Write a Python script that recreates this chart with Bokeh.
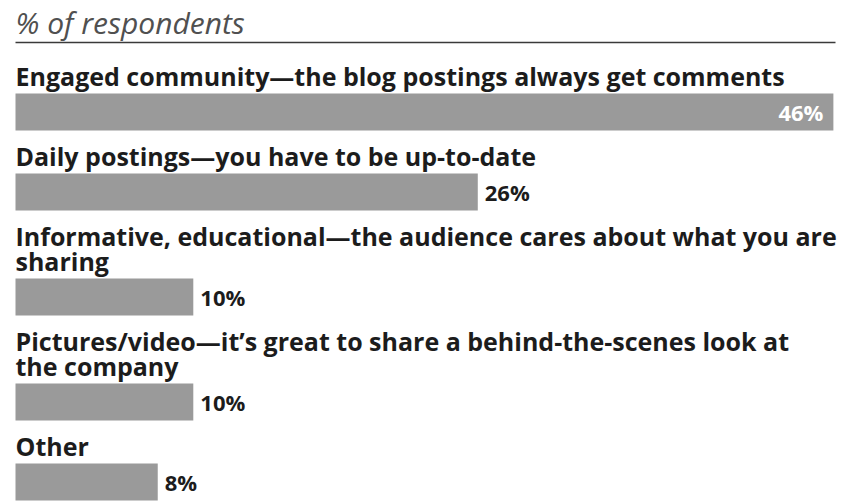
from bokeh.plotting import figure
from bokeh.models import Range1d, ColumnDataSource
from bokeh.embed import file_html
from bokeh.resources import INLINE
from bokeh.core.properties import value

# ---- data ----
title_text = "% of respondents"
categories = [
    ["Engaged community\u2014the blog postings always get comments"],
    ["Daily postings\u2014you have to be up-to-date"],
    ["Informative, educational\u2014the audience cares about what you are", "sharing"],
    ["Pictures/video\u2014it\u2019s great to share a behind-the-scenes look at", "the company"],
    ["Other"],
]
values = [46, 26, 10, 10, 8]
value_labels = ["46%", "26%", "10%", "10%", "8%"]

# ---- layout ----
W, H = 845, 503
PX_PER_UNIT = 17.78
LEFT_PX = 15
first_baseline = 82
line_h = 25
base_to_bar = 11
bar_h = 37
gap_after_bar = 32

LABEL_SIZE = 25
VALUE_SIZE = 22
TITLE_SIZE = 30
DESCENT = 0.27        # rendered baseline sits this many em below the given y

BAR_COLOR = "#9a9a9a"
TEXT_COLOR = "#1c1c1c"
FONT = "Open Sans"

p = figure(width=W, height=H, output_backend="svg", toolbar_location=None,
           x_range=Range1d(-LEFT_PX / PX_PER_UNIT, (W - LEFT_PX) / PX_PER_UNIT),
           y_range=Range1d(H, 0), min_border=0)
p.axis.visible = False
p.grid.visible = False
p.outline_line_color = None
p.background_fill_color = "white"
p.border_fill_color = "white"

lab_x, lab_y, lab_t = [], [], []
bar_top, bar_bot = [], []
y = first_baseline
for lines in categories:
    for i, ln in enumerate(lines):
        lab_x.append(0)
        lab_y.append(y + i * line_h - DESCENT * LABEL_SIZE)
        lab_t.append(ln)
    last = y + (len(lines) - 1) * line_h
    t = last + base_to_bar
    bar_top.append(t)
    bar_bot.append(t + bar_h)
    y = t + bar_h + gap_after_bar

bars = ColumnDataSource(dict(left=[0] * len(values), right=values, top=bar_top, bottom=bar_bot))
p.quad(left="left", right="right", top="top", bottom="bottom", source=bars,
       fill_color=BAR_COLOR, line_color=None)

labs = ColumnDataSource(dict(x=lab_x, y=lab_y, t=lab_t))
p.text(x="x", y="y", text="t", source=labs, text_font=value(FONT), text_font_style="bold",
       text_font_size=f"{LABEL_SIZE}px", text_color=TEXT_COLOR, text_baseline="alphabetic",
       text_align="left")

xmax = max(values)
in_x, in_y, in_t, out_x, out_y, out_t = [], [], [], [], [], []
for v, lbl, t, b in zip(values, value_labels, bar_top, bar_bot):
    cy = (t + b) / 2
    if v > 0.85 * xmax:
        in_x.append(v); in_y.append(cy); in_t.append(lbl)
    else:
        out_x.append(v); out_y.append(cy); out_t.append(lbl)

p.text(x=in_x, y=in_y, text=in_t, text_font=value(FONT), text_font_style="bold",
       text_font_size=f"{VALUE_SIZE}px", text_color="white", text_baseline="middle",
       text_align="right", x_offset=-10)
p.text(x=out_x, y=out_y, text=out_t, text_font=value(FONT), text_font_style="bold",
       text_font_size=f"{VALUE_SIZE}px", text_color=TEXT_COLOR, text_baseline="middle",
       text_align="left", x_offset=7)

p.text(x=[0], y=[30 - DESCENT * TITLE_SIZE], text=[title_text], text_font=value(FONT),
       text_font_style="italic", text_font_size=f"{TITLE_SIZE}px", text_color="#505050",
       text_baseline="alphabetic", text_align="left")
p.segment(x0=[0], y0=[42], x1=[(835 - LEFT_PX) / PX_PER_UNIT], y1=[42],
          line_color="#3a3a3a", line_width=1.6)

open("out.html", "w").write(file_html(p, INLINE))
